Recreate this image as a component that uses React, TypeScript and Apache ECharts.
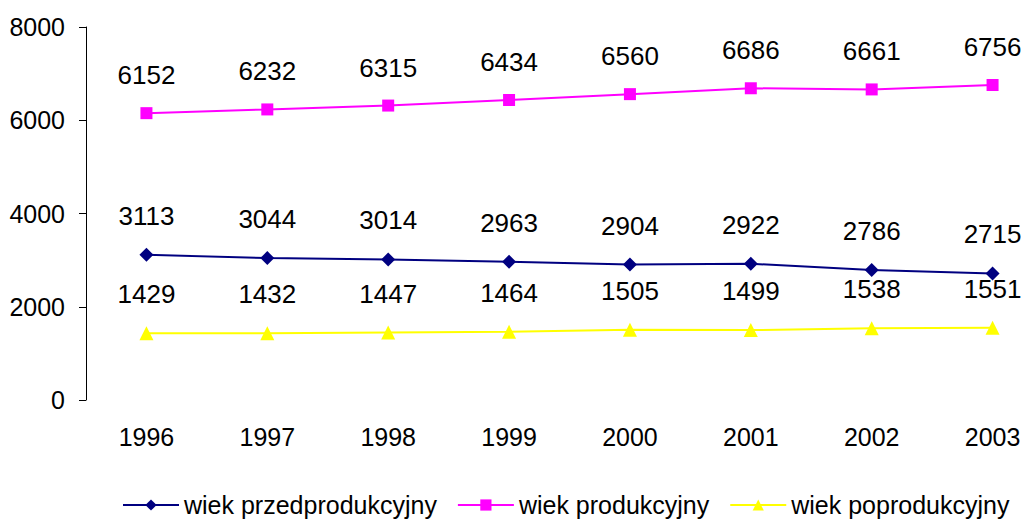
import React, { useEffect, useRef } from "react";
import * as echarts from "echarts";

const years = ["1996", "1997", "1998", "1999", "2000", "2001", "2002", "2003"];
const przed = [3113, 3044, 3014, 2963, 2904, 2922, 2786, 2715];
const prod = [6152, 6232, 6315, 6434, 6560, 6686, 6661, 6756];
const poprod = [1429, 1432, 1447, 1464, 1505, 1499, 1538, 1551];
const yTicks = [0, 2000, 4000, 6000, 8000];

const FONT = "'Liberation Sans', Arial, sans-serif";

export default function App() {
  const ref = useRef<HTMLDivElement>(null);
  useEffect(() => {
    if (!ref.current) return;
    const chart = echarts.init(ref.current, undefined, { renderer: "svg" });
    const mk = (name: string, data: number[], color: string, symbol: string, size: number) => ({
      name,
      type: "line",
      data,
      symbol,
      symbolSize: size,
      lineStyle: { color, width: 2 },
      itemStyle: { color },
      label: {
        show: true,
        position: "top",
        distance: 19,
        color: "#000",
        fontSize: 26,
        fontFamily: FONT,
      },
    });
    chart.setOption({
      animation: false,
      textStyle: { fontFamily: FONT },
      grid: { left: 86, right: 7, top: 27, bottom: 120, containLabel: false },
      xAxis: {
        type: "category",
        data: years,
        boundaryGap: true,
        axisLine: { show: false },
        axisTick: { show: false },
        axisLabel: { color: "#000", fontSize: 25, fontFamily: FONT, margin: 24 },
      },
      yAxis: {
        type: "value",
        min: yTicks[0],
        max: yTicks[yTicks.length - 1],
        interval: 2000,
        splitLine: { show: false },
        axisLine: { show: true, lineStyle: { color: "#000", width: 1 } },
        axisTick: { show: true, length: 7, lineStyle: { color: "#000" } },
        axisLabel: {
          color: "#000",
          fontSize: 25,
          fontFamily: FONT,
          margin: 21,
          formatter: (v: number) => String(v),
        },
      },
      legend: {
        top: 491,
        left: 122,
        padding: 0,
        itemWidth: 56,
        itemHeight: 14,
        itemGap: 20,
        textStyle: { color: "#000", fontSize: 25, fontFamily: FONT, lineHeight: 28 },
        data: ["wiek przedprodukcyjny", "wiek produkcyjny", "wiek poprodukcyjny"],
      },
      series: [
        mk("wiek przedprodukcyjny", przed, "#000080", "diamond", 14),
        mk("wiek produkcyjny", prod, "#FF00FF", "rect", 12),
        mk("wiek poprodukcyjny", poprod, "#FFFF00", "triangle", 14),
      ],
    });
    return () => chart.dispose();
  }, []);
  return (
    <div style={{ width: 1024, height: 520, position: "absolute", left: 0, top: 0, overflow: "hidden" }}>
      <div ref={ref} style={{ width: 1060, height: 520, position: "absolute", left: 0, top: 0 }} />
    </div>
  );
}
